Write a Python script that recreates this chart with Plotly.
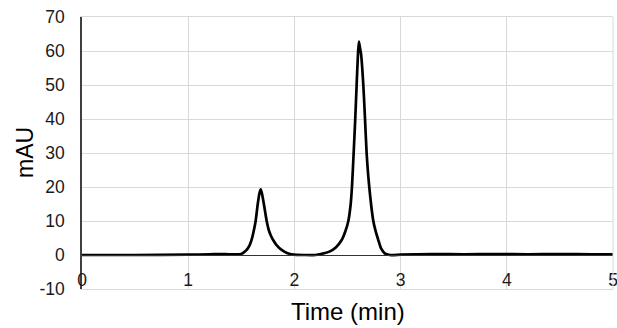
import plotly.graph_objects as go

# Time (min) and absorbance (mAU)
time_min = [0.0, 0.5, 1.0, 1.2, 1.3, 1.40, 1.50, 1.55, 1.58, 1.60, 1.62, 1.635, 1.655, 1.67,
            1.683, 1.695, 1.714, 1.739, 1.76, 1.78, 1.80, 1.83, 1.88, 1.93, 1.99, 2.10,
            2.20, 2.28, 2.33, 2.39, 2.445, 2.48, 2.508, 2.53, 2.542, 2.558, 2.573, 2.586,
            2.600, 2.608, 2.617, 2.628, 2.649, 2.665, 2.680, 2.705, 2.743, 2.765, 2.79,
            2.815, 2.85, 2.90, 3.0, 3.3, 3.6, 3.9, 4.2, 4.5, 4.8, 5.0]
mau = [0.0, 0.0, 0.1, 0.2, 0.3, 0.2, 0.3, 1.5, 3.0, 4.8, 7.5, 10.0, 15.0, 18.0,
       19.3, 18.0, 14.7, 10.0, 7.2, 5.6, 4.4, 3.0, 1.5, 0.6, 0.1, 0.0,
       0.0, 0.5, 1.0, 2.2, 4.4, 7.0, 10.0, 15.0, 20.0, 30.0, 40.0, 50.0,
       60.0, 62.8, 61.0, 59.0, 50.0, 40.0, 30.0, 20.0, 10.0, 7.0, 4.4,
       2.0, 0.5, 0.0, 0.1, 0.3, 0.2, 0.3, 0.2, 0.3, 0.2, 0.2]

x_ticks = [0, 1, 2, 3, 4, 5]
x_tick_labels = ["0", "1", "2", "3", "4", "5"]
y_ticks = [-10, 0, 10, 20, 30, 40, 50, 60, 70]
y_tick_labels = ["-10", "0", "10", "20", "30", "40", "50", "60", "70"]

FONT = "Liberation Sans, Arial, sans-serif"
GRID = "#d9d9d9"

fig = go.Figure()
fig.add_trace(go.Scatter(x=time_min, y=mau, mode="lines",
                         line=dict(color="black", width=2.7, shape="spline", smoothing=0.5),
                         showlegend=False, hoverinfo="skip"))
# invisible trace to activate the tick-label axis drawn at y = 0
fig.add_trace(go.Scatter(x=[0], y=[0], xaxis="x2", mode="markers",
                         marker=dict(opacity=0), showlegend=False, hoverinfo="skip"))

fig.update_layout(
    width=617, height=328,
    margin=dict(l=82, r=4, t=17, b=39, autoexpand=False),
    paper_bgcolor="white", plot_bgcolor="white",
    font=dict(family=FONT, color="#1a1a1a"),
    xaxis=dict(range=[0, 5], tickvals=x_ticks, showticklabels=False, automargin=False,
               showgrid=True, gridcolor=GRID, gridwidth=1, zeroline=False,
               showline=True, linecolor=GRID, linewidth=1, mirror=True),
    xaxis2=dict(range=[0, 5], overlaying="x", anchor="free", position=0.125, automargin=False,
                tickvals=x_ticks, ticktext=x_tick_labels, showgrid=False, zeroline=False,
                showline=True, linecolor="#333", linewidth=1, ticks="",
                ticklabelstandoff=9, ticklabeloverflow="allow",
                tickfont=dict(size=17.5, color="#1a1a1a")),
    yaxis=dict(range=[-10, 70], tickvals=y_ticks, ticktext=y_tick_labels,
               showgrid=True, gridcolor=GRID, automargin=False,
               gridwidth=1, zeroline=False, showline=True, linecolor="#404040",
               linewidth=1.5, ticks="", ticklabelstandoff=12, ticklabeloverflow="allow",
               tickfont=dict(size=17.5, color="#1a1a1a")),
    annotations=[
        dict(text="Time (min)", xref="paper", yref="paper", x=0.5, y=0,
             xanchor="center", yanchor="middle", yshift=-22, showarrow=False,
             font=dict(size=24, color="#000")),
        dict(text="mAU", xref="paper", yref="paper", x=0, y=0.5, textangle=-90,
             xanchor="center", yanchor="middle", xshift=-57, showarrow=False,
             font=dict(size=23, color="#000")),
    ],
)
fig.add_shape(type="line", xref="paper", yref="paper", x0=1, x1=1, y0=0, y1=1,
              line=dict(color=GRID, width=1))

fig.write_html("out.html", config={"displayModeBar": False},
               post_script="document.body.style.margin='0';document.body.style.overflow='hidden';")
